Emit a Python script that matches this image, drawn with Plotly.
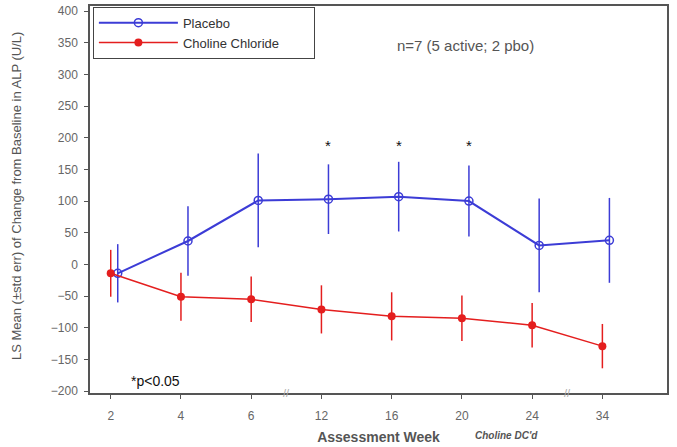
import plotly.graph_objects as go

weeks = ["2", "4", "6", "12", "16", "20", "24", "34"]
placebo_mean = [-14, 37, 101, 103, 107, 100, 30, 38]
placebo_err = [46, 55, 74, 55, 55, 56, 74, 67]
choline_mean = [-14, -51, -55, -71, -82, -85, -96, -129]
choline_err = [37, 38, 36, 38, 38, 36, 35, 35]
sig_weeks = ["12", "16", "20"]
sig_y = 188

idx = list(range(len(weeks)))
blue_x = [i + 0.1 for i in idx]

BLUE = "#3c3cd6"
RED = "#e41e1e"

fig = go.Figure()
fig.add_trace(go.Scatter(
    x=blue_x, y=placebo_mean, name="Placebo", mode="lines+markers",
    line=dict(color=BLUE, width=2),
    marker=dict(symbol="circle-open", size=8, color=BLUE, line=dict(width=1.5, color=BLUE)),
    error_y=dict(type="data", array=placebo_err, color=BLUE, thickness=1.5, width=0),
))
fig.add_trace(go.Scatter(
    x=idx, y=choline_mean, name="Choline Chloride" + "\u00a0" * 8, mode="lines+markers",
    line=dict(color=RED, width=1.5),
    marker=dict(symbol="circle", size=8, color=RED),
    error_y=dict(type="data", array=choline_err, color=RED, thickness=1.5, width=0),
))

for w in sig_weeks:
    i = weeks.index(w)
    fig.add_annotation(x=blue_x[i], y=sig_y, text="*", showarrow=False,
                       font=dict(size=15, color="#111", family="Arial"))

# axis break marks
for bx in [2.5, 6.5]:
    fig.add_annotation(x=bx, y=-203, text="//", showarrow=False,
                       font=dict(size=11, color="#aaa", family="Arial"))

fig.add_annotation(xref="paper", yref="paper", x=-0.144, y=0.51,
                   text="LS Mean (±std err) of Change from Baseline in ALP (U/L)",
                   textangle=-90, showarrow=False,
                   font=dict(size=13, color="#555", family="Arial"))
fig.add_annotation(xref="paper", yref="paper", x=0.65, y=0.925,
                   text="n=7 (5 active; 2 pbo)", showarrow=False,
                   font=dict(size=15, color="#555", family="Arial"))
fig.add_annotation(xref="paper", yref="paper", x=0.067, y=0.004,
                   text="*p<0.05", showarrow=False,
                   font=dict(size=14, color="#111", family="Arial"))
fig.add_annotation(xref="paper", yref="paper", x=0.78, y=-0.128,
                   text="<b><i>Choline DC'd</i></b>", showarrow=False,
                   font=dict(size=10, color="#555", family="Arial"))

fig.update_layout(
    width=677, height=447,
    margin=dict(l=90, r=10, t=4, b=52),
    paper_bgcolor="white", plot_bgcolor="white",
    font=dict(family="Arial", color="#555"),
    showlegend=True,
    legend=dict(x=0.005, y=0.998, xanchor="left", yanchor="top",
                bordercolor="#444", borderwidth=1, bgcolor="white",
                font=dict(size=13, color="#333"), itemwidth=79,
                tracegroupgap=0),
    xaxis=dict(
        range=[-0.295, 7.92], tickmode="array", tickvals=idx, ticktext=weeks,
        showline=True, linecolor="#555", linewidth=1.5, mirror=True,
        ticks="outside", ticklen=4, tickcolor="#555", ticklabelstandoff=7,
        showgrid=False, zeroline=False,
        tickfont=dict(size=12, color="#666"),
        title=dict(text="<b>Assessment Week</b>", font=dict(size=14, color="#555"), standoff=10),
    ),
    yaxis=dict(
        range=[-203, 408], tickmode="array", tickvals=list(range(-200, 401, 50)),
        showline=True, linecolor="#555", linewidth=1.5, mirror=True,
        ticks="outside", ticklen=4, tickcolor="#555", ticklabelstandoff=4,
        showgrid=False, zeroline=False,
        tickfont=dict(size=12, color="#666"),
    ),
)

fig.write_html("out.html", config={"displayModeBar": False},
               post_script="document.body.style.margin='0';")
